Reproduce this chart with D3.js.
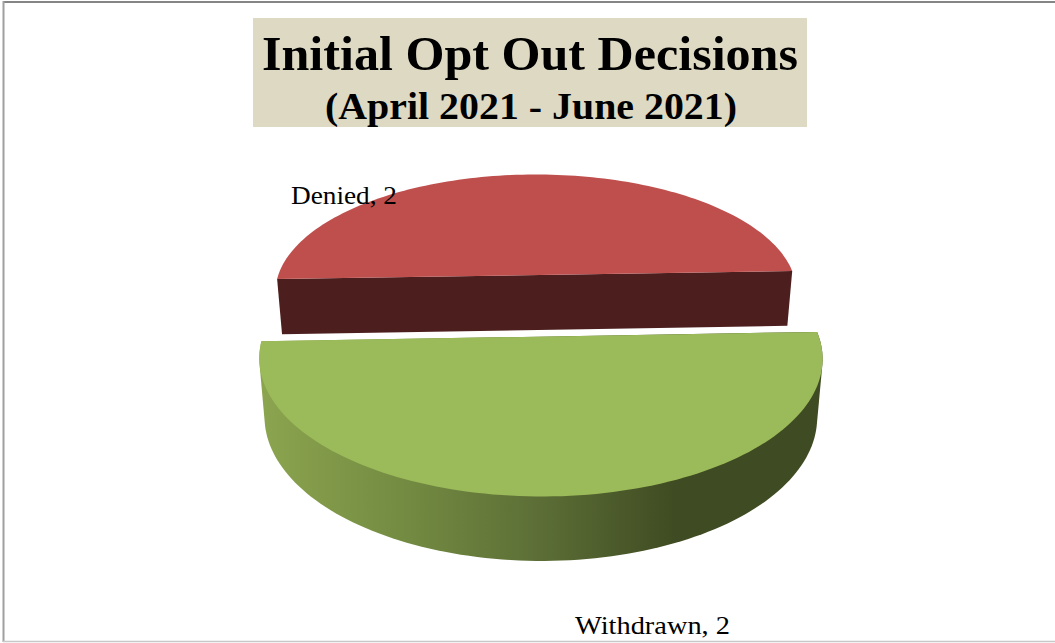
<!DOCTYPE html>
<html>
<head>
<meta charset="utf-8">
<script src="https://cdn.jsdelivr.net/npm/d3@7"></script>
<style>
  html, body { margin: 0; padding: 0; background: #fff; }
  svg { display: block; }
  text { font-family: "Liberation Serif", serif; fill: #000; }
</style>
</head>
<body>
<svg width="1055" height="643"></svg>
<script>
// data
var categories = ["Denied", "Withdrawn"];
var values = [2, 2];
var titleLines = ["Initial Opt Out Decisions", "(April 2021 - June 2021)"];

// options
var width = 1055, height = 643;
var cx = 536, cy = 275;
var A = 257.7, B = 115.4;   // radius across / into the screen
var k = 0.148;              // perspective strength
var depth = 55;             // wall height
var shrinkX = 0.981, shrinkY = 0.972;  // base is a bit further from the camera
var firstSlice = -0.035;    // pie is turned a little in its own plane
var explode = { Denied: 0, Withdrawn: 0.495 };
var topColor = { Denied: "#BE4F4D", Withdrawn: "#9BBA59" };
var steps = d3.range(0, 1.0001, 1 / 120);

var svg = d3.select("svg");

// frame
svg.append("line").attr("x1", 3).attr("x2", width).attr("y1", 2).attr("y2", 2)
  .attr("stroke", "#858585").attr("stroke-width", 2.2);
svg.append("line").attr("x1", 3.5).attr("x2", 3.5).attr("y1", 1).attr("y2", 642)
  .attr("stroke", "#a0a0a0").attr("stroke-width", 2);
svg.append("line").attr("x1", 3).attr("x2", width).attr("y1", 641.5).attr("y2", 641.5)
  .attr("stroke", "#c8c8c8").attr("stroke-width", 1.5);

// title
svg.append("rect").attr("x", 253).attr("y", 18).attr("width", 554).attr("height", 109)
  .attr("fill", "#DDD9C3");
svg.append("text").attr("x", 530).attr("y", 70).attr("text-anchor", "middle")
  .attr("font-size", 49).attr("font-weight", "bold")
  .attr("textLength", 536).attr("lengthAdjust", "spacingAndGlyphs")
  .text(titleLines[0]);
svg.append("text").attr("x", 531).attr("y", 119).attr("text-anchor", "middle")
  .attr("font-size", 38).attr("font-weight", "bold")
  .attr("textLength", 412).attr("lengthAdjust", "spacingAndGlyphs")
  .text(titleLines[1]);

// wall shading
var grad = svg.append("defs").append("linearGradient").attr("id", "wall")
  .attr("gradientUnits", "userSpaceOnUse")
  .attr("x1", 258).attr("x2", 822).attr("y1", 0).attr("y2", 0);
[[0, "#8CA54F"], [0.25, "#748C42"], [0.5, "#5C6E36"], [0.74, "#3F4B22"], [1, "#3F4B22"]]
  .forEach(function (s) {
    grad.append("stop").attr("offset", s[0]).attr("stop-color", s[1]);
  });

// pie + perspective projection
var pie = d3.pie().sort(null)
  .startAngle(-Math.PI / 2 + firstSlice)
  .endAngle(3 * Math.PI / 2 + firstSlice);
var arcs = pie(values);

function project(a, r, off, base) {
  var u = r * Math.sin(a) + off[0];
  var v = -r * Math.cos(a) + off[1];
  var s = 1 / (1 - k * v);
  var fx = base ? shrinkX : 1, fy = base ? shrinkY : 1;
  return [cx + fx * A * u * s, cy + fy * B * v * s + (base ? depth * s : 0)];
}
function rim(d, off, base) {
  return steps.map(function (t) {
    return project(d.startAngle + t * (d.endAngle - d.startAngle), 1, off, base);
  });
}
var line = d3.line();

arcs.forEach(function (d, i) {
  var name = categories[i];
  // slice moves out along its own middle angle
  var mid = (d.startAngle + d.endAngle) / 2;
  var off = [explode[name] * Math.sin(mid), -explode[name] * Math.cos(mid)];
  var top = rim(d, off, false), bottom = rim(d, off, true);
  if (name === "Denied") {
    // cut face shows in front of the back slice
    svg.append("path")
      .attr("d", line([top[0], top[top.length - 1], bottom[bottom.length - 1], bottom[0]]) + "Z")
      .attr("fill", "#4C1F1E");
  } else {
    // outer wall of the front slice, hull gives the tangent sides
    svg.append("path")
      .attr("d", line(d3.polygonHull(top.concat(bottom))) + "Z")
      .attr("fill", "url(#wall)");
  }
  svg.append("path").attr("d", line(top) + "Z").attr("fill", topColor[name]);
});

// data labels
svg.append("text").attr("x", 291).attr("y", 204).attr("font-size", 25)
  .attr("textLength", 106).attr("lengthAdjust", "spacingAndGlyphs")
  .text(categories[0] + ", " + values[0]);
svg.append("text").attr("x", 575).attr("y", 634).attr("font-size", 25)
  .attr("textLength", 155).attr("lengthAdjust", "spacingAndGlyphs")
  .text(categories[1] + ", " + values[1]);
</script>
</body>
</html>
